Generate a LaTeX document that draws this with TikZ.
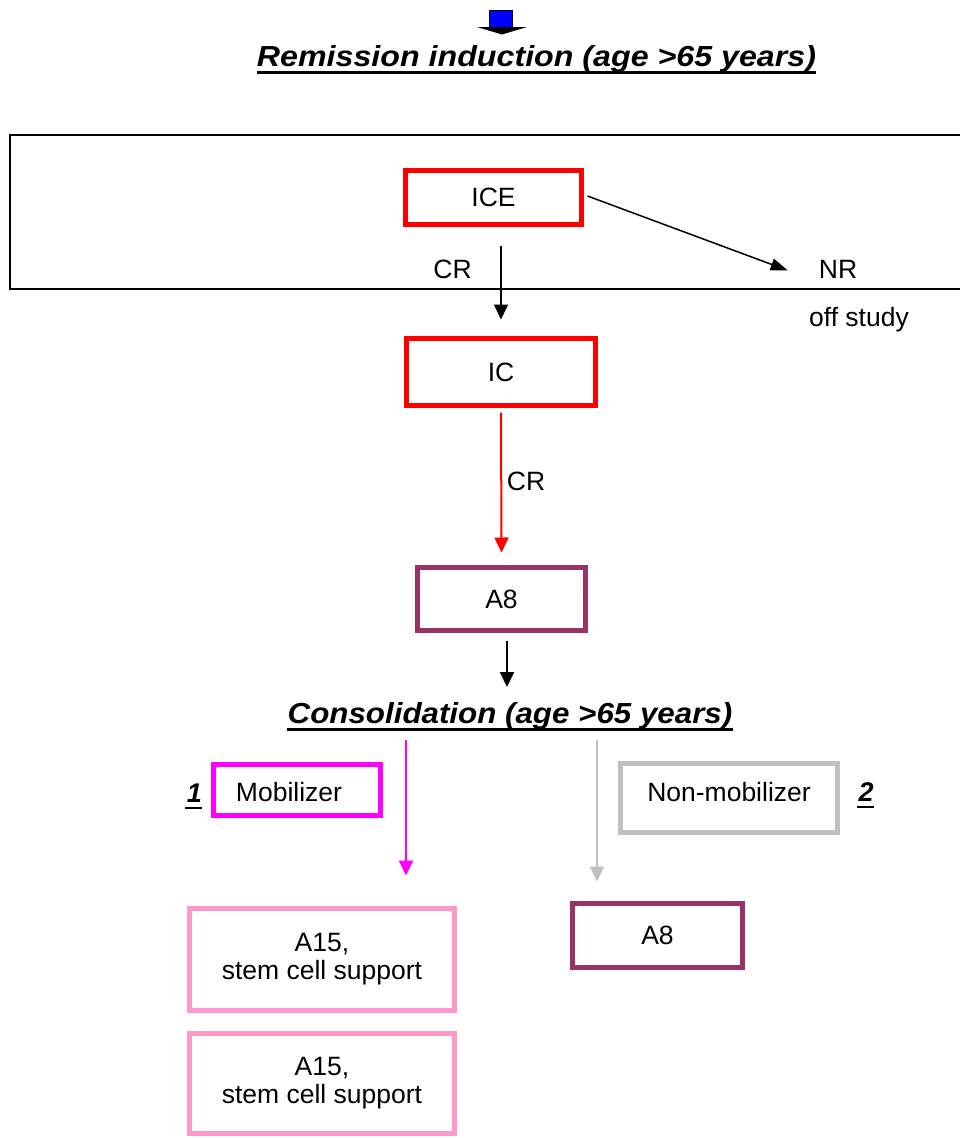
\documentclass[tikz,border=0pt]{standalone}
\usepackage{fontspec}
\setmainfont{Liberation Sans}
\usetikzlibrary{arrows.meta,calc}
\definecolor{cred}{HTML}{FF0000}
\definecolor{cpurple}{HTML}{993366}
\definecolor{cmagenta}{HTML}{FF00FF}
\definecolor{cgray}{HTML}{C0C0C0}
\definecolor{cpink}{HTML}{FF99CC}
\definecolor{cblue}{HTML}{0000FF}
\begin{document}
\begin{tikzpicture}[x=1pt,y=-1pt,
  box/.style={draw, line width=5pt, inner sep=0pt, align=center, font=\fontsize{26.5}{28}\selectfont},
  lbl/.style={inner sep=0pt, anchor=base, font=\fontsize{26.5}{28}\selectfont},
  ttl/.style={inner sep=0pt, anchor=base, font=\fontsize{29}{32}\selectfont\bfseries\itshape},
  num/.style={inner sep=0pt, anchor=base, font=\fontsize{27}{30}\selectfont\bfseries\itshape},
  uline/.style={line width=2.5pt},
  conn/.style={line width=2pt, -{Triangle[width=14pt,length=15pt]}},
  thinconn/.style={line width=1.5pt, -{Triangle[width=12pt,length=17pt]}}]
\path[use as bounding box] (0,0) rectangle (960,1138);
\clip (0,0) rectangle (960,1138);

% blue block arrow icon
\filldraw[fill=cblue, draw=black, line width=1pt] (489.5,10) rectangle (512.5,28);
\fill[black] (477,27) -- (527,27) -- (502,34.5) -- cycle;

% title 1
\node[ttl] (T1) at (536.5,66) {\scalebox{1.11}[1]{Remission induction (age >65 years)}};
\draw[uline] ($(T1.base west)+(0,6.5)$) -- ($(T1.base east)+(0,6.5)$);

% frame
\draw[line width=2pt] (990,135) -- (9.5,135) -- (9.5,289) -- (990,289);

% boxes
\node[box, draw=cred, minimum width=176pt, minimum height=54pt] (ICE) at (493.5,197.5) {ICE};
\node[box, draw=cred, minimum width=189pt, minimum height=67pt] (IC) at (501,372) {IC};
\node[box, draw=cpurple, minimum width=168pt, minimum height=63pt] (A8a) at (501.5,599) {A8};
\node[box, draw=cmagenta, minimum width=167pt, minimum height=51pt] (Mob) at (297,790) {};
\node[lbl, anchor=center] (MobT) at (289,792) {Mobilizer};
\node[box, draw=cgray, minimum width=217pt, minimum height=69pt] (NonMob) at (729,798) {};
\node[lbl, anchor=center] (NonMobT) at (729,792.5) {Non-mobilizer};
\node[box, draw=cpurple, minimum width=170pt, minimum height=64pt] (A8b) at (657.5,935.5) {A8};
\node[box, draw=cpink, minimum width=265pt, minimum height=102pt] (A15a) at (322,959) {A15,\\stem cell support};
\node[box, draw=cpink, minimum width=265pt, minimum height=100pt] (A15b) at (322,1083.5) {A15,\\stem cell support};

% labels
\node[lbl] (CR1) at (452.5,278) {CR};
\node[lbl] (NR) at (838,278) {NR};
\node[lbl] (off) at (859,326) {off study};
\node[lbl] (CR2) at (526,490) {CR};
\node[num] (N1) at (194.5,802) {1};
\draw[uline] ($(N1.base west)+(-2,6)$) -- ($(N1.base east)+(0,6)$);
\node[num] (N2) at (866,801) {2};
\draw[uline] ($(N2.base west)+(-1,6)$) -- ($(N2.base east)+(0,6)$);

% title 2
\node[ttl] (T2) at (510,723) {\scalebox{1.08}[1]{Consolidation (age >65 years)}};
\draw[uline] ($(T2.base west)+(0,6.5)$) -- ($(T2.base east)+(0,6.5)$);

% connectors
\draw[conn, line width=1.5pt] ($(ICE.south -| IC.north)+(0,18.5)$) -- ($(IC.north)+(0,-16.5)$);
\draw[thinconn] ($(ICE.east)+(3.5,-1.5)$) -- ($(NR.west)+(-31,1.5)$);
\draw[conn, draw=cred, fill=cred] ($(IC.south)+(0,4.5)$) -- ($(A8a.north)+(0,-12.5)$);
\coordinate (A8out) at (507,687);
\draw[conn] ($(A8a.south)+(5.5,7.5)$) -- (A8out);
\coordinate (Mstart) at (406,740);
\draw[conn, draw=cmagenta, fill=cmagenta] (Mstart) -- ($(A15a.north)+(84,-30)$);
\coordinate (Gstart) at (597,740);
\draw[conn, draw=cgray, fill=cgray] (Gstart) -- ($(A8b.north)+(-60.5,-19.5)$);
\end{tikzpicture}
\end{document}
